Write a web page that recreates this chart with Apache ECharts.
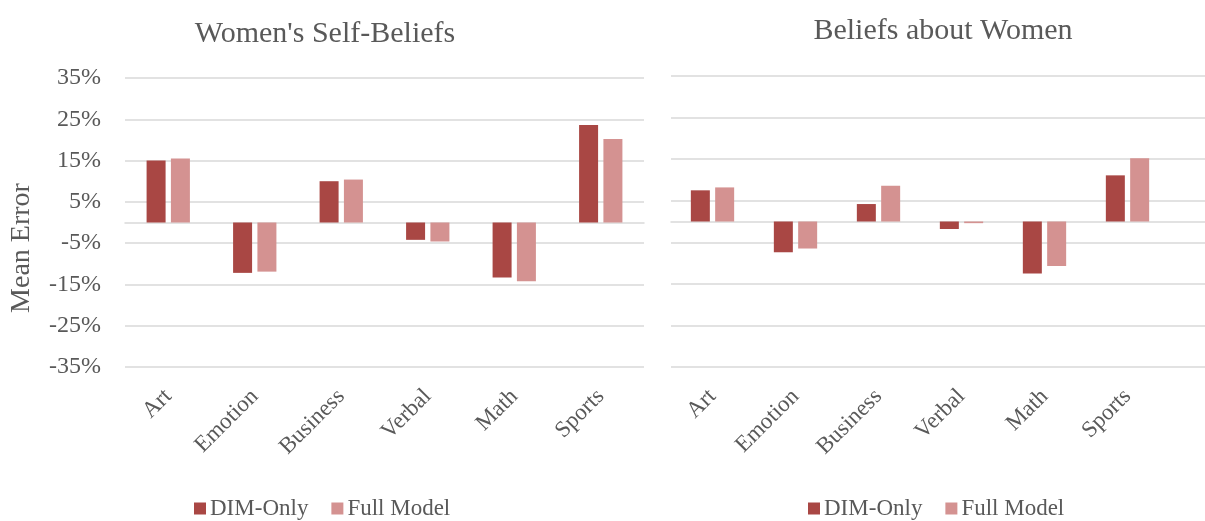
<!DOCTYPE html>
<html>
<head>
<meta charset="utf-8">
<script src="https://cdn.jsdelivr.net/npm/echarts@6/dist/echarts.min.js"></script>
<style>
  html, body { margin: 0; padding: 0; background: #fff; }
  #chart { width: 1205px; height: 521px; }
</style>
</head>
<body>
<div id="chart"></div>
<script>
const categories = ['Art', 'Emotion', 'Business', 'Verbal', 'Math', 'Sports'];
const seriesNames = ['DIM-Only', 'Full Model'];

// percent values
const selfDim = [15.0, -12.2, 10.0, -4.2, -13.3, 23.6];
const selfFull = [15.5, -11.9, 10.4, -4.6, -14.2, 20.2];
const aboutDim = [7.5, -7.4, 4.2, -1.8, -12.5, 11.1];
const aboutFull = [8.2, -6.5, 8.6, -0.4, -10.7, 15.2];

const panelTitles = ["Women's Self-Beliefs", 'Beliefs about Women'];

const FONT = 'Liberation Serif';
const TEXT = '#595959';
const GRID = '#d9d9d9';
const DIM_COLOR = '#a94744';
const FULL_COLOR = '#d49291';

const chart = echarts.init(document.getElementById('chart'));

function valueAxis(gridIndex, showLabels, showSplit) {
  return {
    type: 'value',
    gridIndex: gridIndex,
    min: -35,
    max: 35,
    interval: 10,
    axisLine: { show: false },
    axisTick: { show: false },
    axisLabel: {
      show: showLabels,
      formatter: '{value}%',
      color: TEXT,
      fontFamily: FONT,
      fontSize: 24,
      margin: 24
    },
    splitLine: { show: showSplit, lineStyle: { color: GRID, width: 1.5 } }
  };
}

function catAxis(gridIndex, showLine) {
  return {
    type: 'category',
    gridIndex: gridIndex,
    data: categories,
    axisLine: { show: showLine, onZero: true, lineStyle: { color: GRID, width: 1.5 } },
    axisTick: { show: false },
    axisLabel: {
      rotate: 45,
      color: TEXT,
      fontFamily: FONT,
      fontSize: 23,
      margin: 26,
      interval: 0
    }
  };
}

function barSeries(name, data, axisIndex, color) {
  return {
    type: 'bar',
    name: name,
    data: data,
    xAxisIndex: axisIndex,
    yAxisIndex: axisIndex,
    barWidth: 19,
    barGap: '28%',
    itemStyle: { color: color },
    animation: false
  };
}

function legendAt(left) {
  return {
    left: left,
    top: 492,
    data: seriesNames,
    icon: 'rect',
    itemWidth: 12,
    itemHeight: 12,
    itemGap: 23,
    textStyle: { color: TEXT, fontFamily: FONT, fontSize: 23, padding: [0, 0, 0, -1] }
  };
}

const option = {
  backgroundColor: '#fff',
  animation: false,
  title: [
    {
      text: panelTitles[0], left: 320, top: 14, textAlign: 'center',
      textStyle: { color: TEXT, fontFamily: FONT, fontSize: 30, fontWeight: 'normal' }
    },
    {
      text: panelTitles[1], left: 938, top: 11, textAlign: 'center',
      textStyle: { color: TEXT, fontFamily: FONT, fontSize: 30, fontWeight: 'normal' }
    }
  ],
  legend: [legendAt(189), legendAt(803)],
  grid: [
    { left: 125, top: 78, width: 519, height: 289 },
    { left: 671, top: 76, width: 498, height: 291 },
    { left: 671, top: 76, width: 534, height: 291 }
  ],
  xAxis: [
    catAxis(0, true),
    catAxis(1, false),
    {
      type: 'value', gridIndex: 2, min: 0, max: 1,
      axisLine: { show: true, onZero: true, lineStyle: { color: GRID, width: 1.5 } },
      axisTick: { show: false }, axisLabel: { show: false }, splitLine: { show: false }
    }
  ],
  yAxis: [
    valueAxis(0, true, true),
    valueAxis(1, false, false),
    valueAxis(2, false, true)
  ],
  graphic: [
    {
      type: 'text',
      x: 22,
      y: 248,
      rotation: Math.PI / 2,
      style: {
        text: 'Mean Error',
        fill: TEXT,
        font: '28px "' + FONT + '"',
        textAlign: 'center',
        textVerticalAlign: 'middle'
      }
    }
  ],
  series: [
    barSeries(seriesNames[0], selfDim, 0, DIM_COLOR),
    barSeries(seriesNames[1], selfFull, 0, FULL_COLOR),
    barSeries(seriesNames[0], aboutDim, 1, DIM_COLOR),
    barSeries(seriesNames[1], aboutFull, 1, FULL_COLOR)
  ]
};

chart.setOption(option);
</script>
</body>
</html>
